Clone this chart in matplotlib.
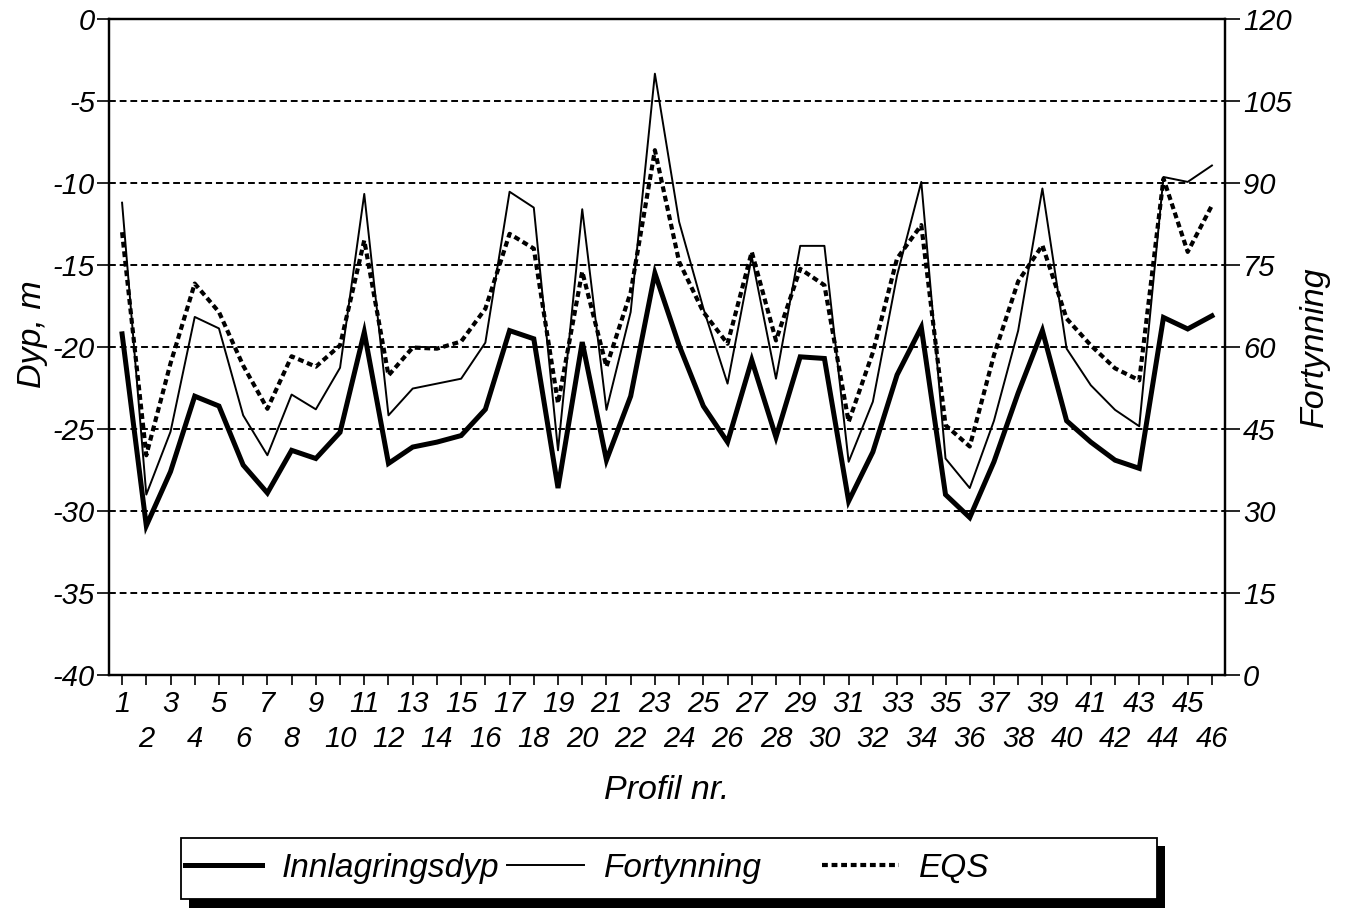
import numpy as np
import matplotlib
matplotlib.use("Agg")
import matplotlib.pyplot as plt
from matplotlib.patches import Rectangle

plt.rcParams['font.family'] = ['Liberation Sans', 'DejaVu Sans']
plt.rcParams['font.style'] = 'italic'
plt.rcParams['axes.unicode_minus'] = False

# Profile numbers and series
profiles = list(range(1, 47))

# Innlagringsdyp, m (left axis)
depth = [-19.2, -30.9, -27.6, -23.0, -23.6, -27.2, -28.9, -26.3, -26.8, -25.2,
         -19.1, -27.1, -26.1, -25.8, -25.4, -23.8, -19.0, -19.5, -28.6, -19.7,
         -26.9, -23.0, -15.5, -19.9, -23.6, -25.8, -20.8, -25.5, -20.6, -20.7,
         -29.4, -26.4, -21.7, -18.8, -29.0, -30.4, -27.0, -22.8, -19.0, -24.5,
         -25.8, -26.9, -27.4, -18.2, -18.9, -18.1]

# Fortynning (right axis)
fortynning = [86.4, 33.0, 44.5, 65.5, 63.4, 47.5, 40.2, 51.3, 48.6, 56.2,
              88.0, 47.5, 52.4, 53.3, 54.2, 60.8, 88.4, 85.5, 41.1, 85.2,
              48.5, 66.4, 110.0, 82.9, 67.1, 53.3, 76.5, 54.2, 78.5, 78.5,
              39.0, 50.0, 73.1, 90.2, 39.6, 34.2, 46.5, 63.0, 89.0, 59.7,
              53.0, 48.5, 45.5, 91.1, 90.2, 93.2]

# EQS (right axis)
eqs = [81.0, 40.2, 57.0, 71.6, 66.4, 56.6, 48.7, 58.3, 56.4, 60.3,
       79.5, 54.8, 59.9, 59.7, 61.0, 67.0, 80.7, 78.0, 49.7, 73.8,
       56.4, 70.0, 96.0, 75.6, 66.4, 60.6, 77.4, 61.2, 74.3, 71.3,
       46.3, 59.0, 76.2, 82.3, 45.7, 41.8, 58.5, 72.0, 78.6, 65.2,
       60.3, 56.1, 53.9, 90.8, 77.4, 85.9]

left_ticks = list(range(0, -45, -5))
right_ticks = list(range(0, 135, 15))

W, H = 1348, 910
fig = plt.figure(figsize=(W / 100, H / 100), dpi=100)
ax = fig.add_axes([109 / W, 1 - 675 / H, (1225 - 109) / W, (675 - 19) / H])
ax2 = ax.twinx()

l1, = ax.plot(profiles, depth, color='black', lw=3.6, solid_joinstyle='miter', zorder=3)
l2, = ax2.plot(profiles, fortynning, color='black', lw=1.4, zorder=3)
l3, = ax2.plot(profiles, eqs, color='black', lw=3.0, linestyle=(0, (1.4, 0.9)), zorder=3)

ax.set_xlim(0.46, 46.54)
ax.set_ylim(-40, 0)
ax2.set_ylim(0, 120)

ax.set_yticks(left_ticks)
ax.set_yticklabels([str(t) for t in left_ticks])
ax2.set_yticks(right_ticks)
ax2.set_yticklabels([str(t) for t in right_ticks])

odd = [p for p in profiles if p % 2 == 1]
even = [p for p in profiles if p % 2 == 0]
ax.set_xticks(odd)
ax.set_xticklabels([str(p) for p in odd])
ax.set_xticks(even, minor=True)
ax.set_xticklabels([str(p) for p in even], minor=True)

ax.grid(axis='y', color='black', lw=1.4, linestyle=(0, (3.5, 2)))
ax.set_axisbelow(True)

for a in (ax, ax2):
    for s in a.spines.values():
        s.set_linewidth(1.6)
ax.tick_params(axis='x', which='major', length=7, width=1.2, pad=4, labelsize=21, direction='out')
ax.tick_params(axis='x', which='minor', length=7, width=1.2, pad=29, labelsize=21, direction='out')
ax.tick_params(axis='y', length=9, width=1.2, pad=1, labelsize=21, direction='out')
ax2.tick_params(axis='y', length=11, width=1.2, pad=2, labelsize=21, direction='out')

ax.set_ylabel('Dyp, m', fontsize=24.5)
ax.yaxis.set_label_coords(-0.055, 0.52)
ax2.set_ylabel('Fortynning', fontsize=24.5)
ax2.yaxis.set_label_coords(1.066, 0.5)
ax.set_xlabel('Profil nr.', fontsize=24.5)
ax.xaxis.set_label_coords(0.5, -0.152)

# legend box with a solid shadow
fig.patches.append(Rectangle((189 / W, 1 - 908 / H), (1165 - 189) / W, (908 - 846) / H,
                             transform=fig.transFigure, facecolor='black', edgecolor='none', zorder=1))
fig.patches.append(Rectangle((181 / W, 1 - 899 / H), (1157 - 181) / W, (899 - 838) / H,
                             transform=fig.transFigure, facecolor='white', edgecolor='black',
                             lw=1.3, zorder=2))

prop = {'family': 'Liberation Sans', 'style': 'italic', 'size': 24}
ly = 1 - 868 / H
for line, label, x0 in [(l1, 'Innlagringsdyp', 185), (l2, 'Fortynning', 507), (l3, 'EQS', 822)]:
    fig.legend([line], [label], loc='center left', bbox_to_anchor=(x0 / W, ly),
               frameon=False, prop=prop, handlelength=2.3, handletextpad=0.6,
               borderpad=0, borderaxespad=0)

fig.savefig('out.png', dpi=100)
